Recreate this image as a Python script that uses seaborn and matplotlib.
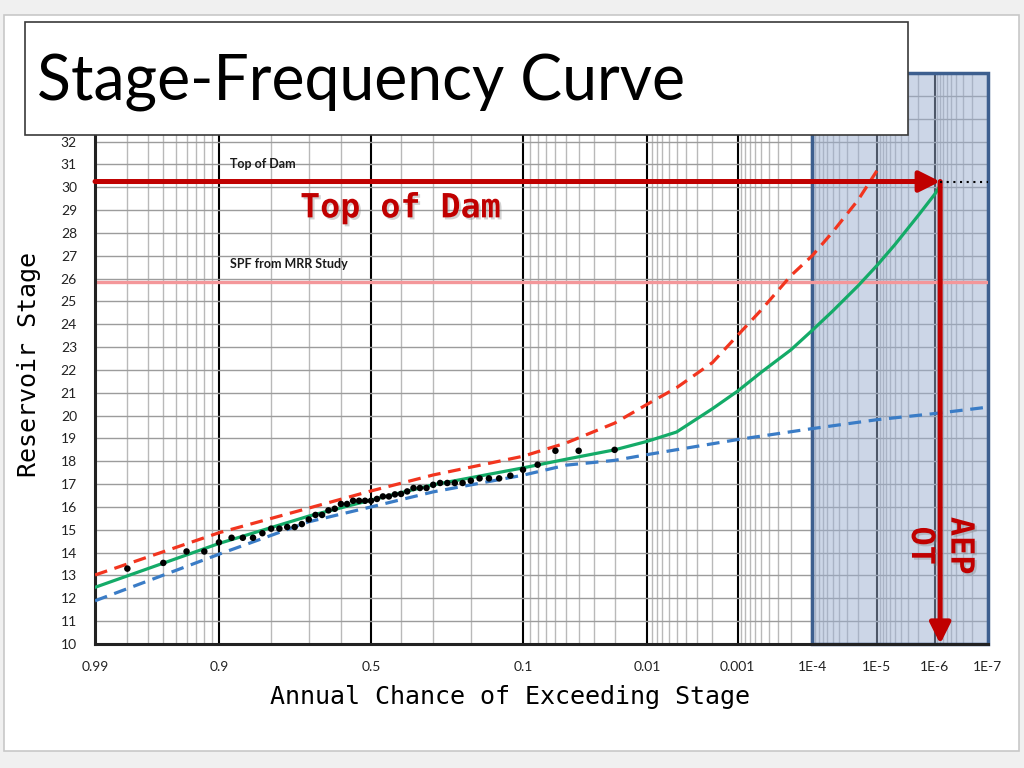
import numpy as np
import pandas as pd
import matplotlib
matplotlib.use("Agg")
import matplotlib.pyplot as plt
import matplotlib.patheffects as pe
from matplotlib.patches import Rectangle
from statistics import NormalDist
import seaborn as sns

# observed annual peaks (exceedance plotting position, stage)
obs_p = [0.98, 0.96, 0.94, 0.92, 0.90, 0.88, 0.86, 0.84, 0.82, 0.80,
         0.78, 0.76, 0.74, 0.72, 0.70, 0.68, 0.66, 0.64, 0.62, 0.60,
         0.58, 0.56, 0.54, 0.52, 0.50, 0.48, 0.46, 0.44, 0.42, 0.40,
         0.38, 0.36, 0.34, 0.32, 0.30, 0.28, 0.26, 0.24, 0.22, 0.20,
         0.18, 0.16, 0.14, 0.12, 0.10, 0.08, 0.06, 0.04, 0.02]
obs_stage = [13.30, 13.55, 14.05, 14.05, 14.45, 14.65, 14.65, 14.65, 14.85, 15.05,
             15.05, 15.12, 15.12, 15.25, 15.45, 15.65, 15.65, 15.85, 15.92, 16.13,
             16.13, 16.27, 16.27, 16.27, 16.27, 16.35, 16.46, 16.46, 16.55, 16.57,
             16.68, 16.83, 16.83, 16.83, 16.97, 17.05, 17.05, 17.05, 17.05, 17.15,
             17.25, 17.25, 17.25, 17.37, 17.63, 17.85, 18.46, 18.46, 18.50]

# computed frequency curve
fit_p = [0.99, 0.9, 0.7, 0.5, 0.3, 0.1, 0.05, 0.02, 0.01, 0.005, 0.002, 0.001,
         5e-4, 2e-4, 1e-4, 5e-5, 2e-5, 1e-5, 5e-6, 2e-6, 1e-6, 8e-7]
fit_stage = [12.48, 14.40, 15.60, 16.30, 16.97, 17.71, 18.09, 18.50, 18.87, 19.28, 20.30, 21.07,
             21.90, 22.88, 23.73, 24.57, 25.69, 26.57, 27.49, 28.75, 29.70, 30.07]

# upper confidence limit
upper_p = [0.99, 0.9, 0.7, 0.5, 0.3, 0.1, 0.05, 0.02, 0.01, 0.005, 0.002, 0.001,
           5e-4, 2e-4, 1e-4, 5e-5, 2e-5, 1e-5]
upper_stage = [13.02, 14.87, 15.95, 16.70, 17.40, 18.22, 18.80, 19.67, 20.49, 21.22, 22.32, 23.51,
               24.63, 26.13, 27.00, 28.03, 29.45, 30.72]

# lower confidence limit
lower_p = [0.99, 0.9, 0.7, 0.5, 0.3, 0.1, 0.05, 0.02, 0.01, 0.001, 1e-4, 1e-5, 1e-6, 1e-7]
lower_stage = [11.89, 13.93, 15.35, 16.00, 16.66, 17.39, 17.83, 18.04, 18.29, 18.95, 19.43, 19.82,
               20.09, 20.37]

TOP_OF_DAM = 30.25
SPF_STAGE = 25.85
AEP_P = 8e-7

major_p = [0.99, 0.9, 0.5, 0.1, 0.01, 0.001, 1e-4, 1e-5, 1e-6, 1e-7]
major_labels = ["0.99", "0.9", "0.5", "0.1", "0.01", "0.001", "1E-4", "1E-5", "1E-6", "1E-7"]
minor_p = ([0.98, 0.97, 0.96, 0.95, 0.94, 0.93, 0.92, 0.91, 0.8, 0.7, 0.6, 0.4, 0.3, 0.2]
           + [m * 10.0 ** e for e in (-2, -3, -4, -5, -6, -7) for m in (9, 8, 7, 6, 5, 4, 3, 2)])
stage_ticks = list(range(10, 36))
# labels above 32 sit under the title box on the slide
stage_labels = [str(v) if v <= 32 else "" for v in stage_ticks]

sns.set_theme(style="white")
plt.rcParams["font.family"] = ["Lato", "DejaVu Sans"]

_nd = NormalDist()
_q = np.vectorize(_nd.inv_cdf, otypes=[float])
_c = np.vectorize(_nd.cdf, otypes=[float])


def prob_fwd(p):
    p = np.clip(np.asarray(p, dtype=float), 1e-12, 1 - 1e-12)
    return _q(p)


def prob_inv(z):
    return _c(np.asarray(z, dtype=float))


fig = plt.figure(figsize=(10.24, 7.68), dpi=100, facecolor="#f0f0f0")
# slide background
fig.add_artist(Rectangle((4 / 1024, 1 - 751 / 768), 1015 / 1024, 736 / 768,
                         transform=fig.transFigure, facecolor="white",
                         edgecolor="#c8c8c8", lw=1.2, zorder=-5))

ax = fig.add_axes([0.0928, 0.1615, 0.8718, 0.7434])
ax.set_xscale("function", functions=(prob_fwd, prob_inv))

fit = pd.DataFrame({"p": fit_p, "stage": fit_stage})
upper = pd.DataFrame({"p": upper_p, "stage": upper_stage})
lower = pd.DataFrame({"p": lower_p, "stage": lower_stage})
obs = pd.DataFrame({"p": obs_p, "stage": obs_stage})

sns.lineplot(data=upper, x="p", y="stage", ax=ax, estimator=None, sort=False,
             color="#f2351f", lw=2.3, zorder=3)
ax.lines[-1].set_dashes((4, 2.4))
sns.lineplot(data=lower, x="p", y="stage", ax=ax, estimator=None, sort=False,
             color="#3a7cc6", lw=2.3, zorder=3)
ax.lines[-1].set_dashes((4, 2.4))
sns.lineplot(data=fit, x="p", y="stage", ax=ax, estimator=None, sort=False,
             color="#14ab68", lw=2.3, zorder=4)
sns.scatterplot(data=obs, x="p", y="stage", ax=ax, color="black", s=22,
                edgecolor="none", zorder=5)

# extrapolation zone
ax.axvspan(1e-4, 1e-7, facecolor="#9bafd1", alpha=0.5, lw=0, zorder=1)
ax.axvspan(1e-4, 1e-7, facecolor="none", edgecolor="#3d5f8f", lw=2.5,
           zorder=1.2, clip_on=False)

# reference stages
ax.axhline(SPF_STAGE, color="#f4979a", lw=2.4, zorder=2)
ax.annotate("", xy=(AEP_P, TOP_OF_DAM), xytext=(0.99, TOP_OF_DAM),
            arrowprops=dict(arrowstyle="-|>,head_length=0.7,head_width=0.35",
                            color="#c00000", lw=3.6, shrinkA=0, shrinkB=0,
                            mutation_scale=18), zorder=6)
ax.annotate("", xy=(AEP_P, 10), xytext=(AEP_P, TOP_OF_DAM),
            arrowprops=dict(arrowstyle="-|>,head_length=0.7,head_width=0.35",
                            color="#c00000", lw=3.6, shrinkA=0, shrinkB=0,
                            mutation_scale=18), zorder=6)
ax.plot([AEP_P, 1e-7], [TOP_OF_DAM, TOP_OF_DAM], ls=(0, (1, 2.2)), color="black",
        lw=1.5, zorder=6)

ax.text(0.883, 31.0, "Top of Dam", fontsize=9, fontweight="bold", va="center",
        ha="left", color="#1a1a1a", zorder=7)
ax.text(0.883, 26.64, "SPF from MRR Study", fontsize=9, fontweight="bold", va="center",
        ha="left", color="#1a1a1a", zorder=7)
shadow = [pe.withSimplePatchShadow(offset=(1.5, -1.5), shadow_rgbFace="gray", alpha=0.35)]
ax.text(0.725, 28.68, "Top of Dam", fontsize=24, fontweight="bold",
        family="DejaVu Sans Mono", color="#c00000", ha="left", va="baseline",
        zorder=7, path_effects=shadow)
ax.text(AEP_P, 14.3, "AEP\nOT", fontsize=23, fontweight="bold", family="DejaVu Sans Mono",
        color="#c00000", ha="center", va="center", rotation=-90, multialignment="center",
        linespacing=1.35, zorder=7, path_effects=shadow)

ax.set_xlim(0.99, 1e-7)
ax.set_ylim(10, 35)
ax.set_xticks(major_p, major_labels)
ax.set_xticks(minor_p, minor=True)
ax.set_yticks(stage_ticks, stage_labels)
ax.set_axisbelow(True)
ax.grid(which="minor", axis="x", color="#b9b9b9", lw=1.0)
ax.grid(which="major", axis="x", color="black", lw=1.5)
ax.grid(which="major", axis="y", color="#9c9c9c", lw=1.0)
ax.tick_params(axis="both", which="both", length=0, labelsize=10, colors="#222222")
ax.tick_params(axis="x", pad=12)
ax.tick_params(axis="y", pad=13)
for s in ("top", "right"):
    ax.spines[s].set_visible(False)
for s in ("left", "bottom"):
    ax.spines[s].set_color("#222222")
    ax.spines[s].set_linewidth(2.2)

ax.set_xlabel("Annual Chance of Exceeding Stage", family="DejaVu Sans Mono", fontsize=18,
              color="black")
ax.set_ylabel("Reservoir Stage", family="DejaVu Sans Mono", fontsize=18, color="black")
ax.xaxis.set_label_coords(0.465, -0.072)
ax.yaxis.set_label_coords(-0.060, 0.49)

# title box
fig.add_artist(Rectangle((25 / 1024, 1 - 135 / 768), 883 / 1024, 113 / 768,
                         transform=fig.transFigure, facecolor="white",
                         edgecolor="#3a3a3a", lw=1.2, zorder=10))
fig.text(37 / 1024, 1 - 100 / 768, "Stage-Frequency Curve", fontsize=45,
         family="Lato", ha="left", va="baseline", color="black", zorder=11)

fig.savefig("out.png", dpi=100, facecolor=fig.get_facecolor())
